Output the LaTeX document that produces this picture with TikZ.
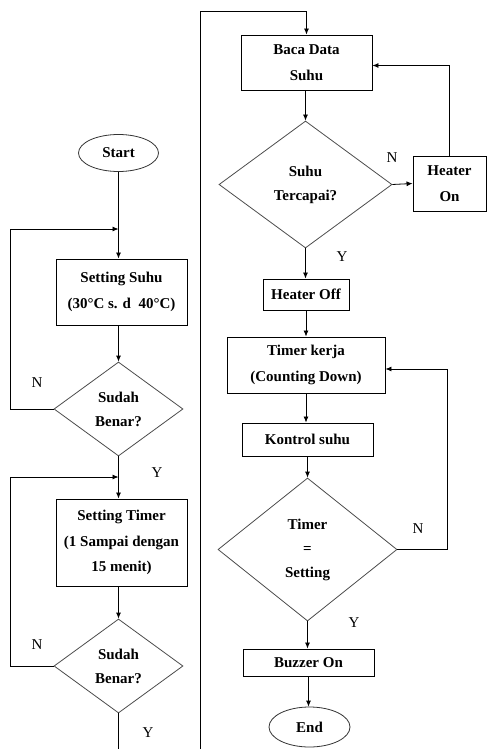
\documentclass[tikz,border=0pt]{standalone}
\usepackage{fontspec}
\setmainfont{Liberation Serif}
\usetikzlibrary{shapes.geometric,arrows.meta}
\begin{document}
\begin{tikzpicture}[x=1pt,y=-1pt,
  every node/.style={font=\fontsize{15}{25.5}\selectfont\bfseries, align=center, inner sep=0pt},
  box/.style={draw=black, rectangle, line width=0.9pt},
  dec/.style={draw=black!70, diamond, line width=0.8pt, font=\fontsize{15}{24}\selectfont\bfseries},
  term/.style={draw=black!80, ellipse, line width=0.8pt},
  lbl/.style={font=\fontsize{15}{16}\selectfont},
  arr/.style={-{Latex[length=6pt,width=5pt]}, line width=0.8pt},
  ln/.style={line width=0.8pt}]
\useasboundingbox (0,0) rectangle (487,749);

% left column
\node[term, minimum width=80, minimum height=37] (start) at (118.5,153) {Start};
\node[box, minimum width=131, minimum height=66] (ss) at (121.5,292) {Setting Suhu\\(30°C s. d~ 40°C)};
\node[dec, minimum width=129, minimum height=94] (d1) at (118.5,409) {Sudah\\Benar?};
\node[box, minimum width=131, minimum height=87] (st) at (121.5,542.5) {Setting Timer\\(1 Sampai dengan\\15 menit)};
\node[dec, minimum width=129, minimum height=94] (d2) at (118.5,666) {Sudah\\Benar?};

% right column
\node[box, minimum width=131, minimum height=55] (baca) at (306.5,62.5) {Baca Data\\Suhu};
\node[dec, minimum width=173, minimum height=127] (d3) at (305.5,184.5) {Suhu\\Tercapai?};
\node[box, minimum width=73, minimum height=55] (hon) at (449.5,183.5) {Heater\\On};
\node[box, minimum width=86, minimum height=31] (hoff) at (306,294.5) {Heater Off};
\node[box, minimum width=158, minimum height=56] (tk) at (306,365) {Timer kerja\\(Counting Down)};
\node[box, minimum width=131, minimum height=33] (ks) at (307.5,439.5) {Kontrol suhu};
\node[dec, minimum width=179, minimum height=143] (d4) at (307.5,549.5) {Timer\\=\\Setting};
\node[box, minimum width=131, minimum height=27] (bz) at (308.5,662.5) {Buzzer On};
\node[term, minimum width=81, minimum height=40] (end) at (309.5,727) {End};

% coordinates
\coordinate (j1) at (118.5,229);
\coordinate (j2) at (118.5,477);
\coordinate (bl) at (118.5,749);
\coordinate (br) at (200,749);
\coordinate (tl) at (200,11);

% connectors left
\draw[arr] (start.south) -- (start.south |- ss.north);
\draw[arr] (d1.north |- ss.south) -- (d1.north);
\draw[arr] (d1.west) -- ++(-43,0) |- (j1);
\draw[arr] (d1.south) -- (d1.south |- st.north);
\draw[arr] (d2.north |- st.south) -- (d2.north);
\draw[arr] (d2.west) -- ++(-43,0) |- (j2);
\draw[ln] (d2.south) -- (bl);

% connectors right
\draw[arr] (br) -- (tl) -| (baca.north);
\draw[arr] (d3.north |- baca.south) -- (d3.north);
\draw[arr] (d3.east) -- (hon.west);
\draw[arr] (hon.north) |- ([yshift=-3pt]baca.east);
\draw[arr] (d3.south) -- (d3.south |- hoff.north);
\draw[arr] (hoff.south) -- (hoff.south |- tk.north);
\draw[arr] (tk.south) -- (tk.south |- ks.north);
\draw[arr] (ks.south) -- (ks.south |- d4.north);
\draw[arr] (d4.east) -- ++(50,0) |- ([yshift=-4pt]tk.east);
\draw[arr] (d4.south) -- (d4.south |- bz.north);
\draw[arr] (bz.south) -- (bz.south |- end.north);

% labels
\node[lbl] (n1) at (37,383) {N};
\node[lbl] (y1) at (157,473) {Y};
\node[lbl] (n2) at (37,645) {N};
\node[lbl] (y2) at (148,733) {Y};
\node[lbl] (n3) at (392,158) {N};
\node[lbl] (y3) at (342,257) {Y};
\node[lbl] (n4) at (418,529) {N};
\node[lbl] (y4) at (354,623) {Y};
\end{tikzpicture}
\end{document}
